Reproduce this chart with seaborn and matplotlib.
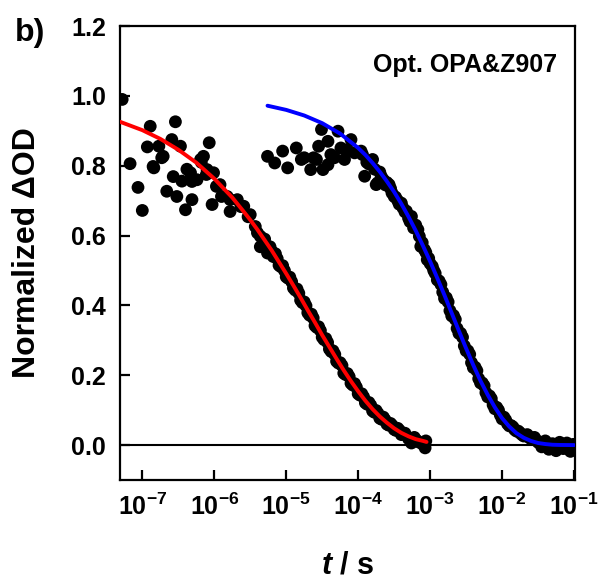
import numpy as np
import pandas as pd
import matplotlib
matplotlib.use("Agg")
import matplotlib.pyplot as plt
import seaborn as sns

# values: log10(t / s) and normalized dOD

# measured points, fast decay (red fit)
red_logt = [-7.28, -7.17, -7.06, -7.00, -6.93, -6.89, -6.85, -6.84, -6.77, -6.73,
            -6.71, -6.66, -6.59, -6.57, -6.54, -6.52, -6.47, -6.45, -6.40, -6.38,
            -6.33, -6.31, -6.31, -6.24, -6.19, -6.18, -6.15, -6.11, -6.10, -6.07,
            -6.03, -6.01, -5.97, -5.92, -5.90, -5.82, -5.78, -5.78, -5.68, -5.63,
            -5.59, -5.53, -5.50, -5.43, -5.40, -5.36, -5.36, -5.30, -5.27, -5.26,
            -5.20, -5.18, -5.15, -5.10, -5.05, -5.00, -4.95, -4.90, -4.85, -4.80,
            -4.75, -4.70, -4.65, -4.60, -4.55, -4.50, -4.45, -4.40, -4.35, -4.30,
            -4.25, -4.20, -4.15, -4.10, -4.05, -4.00, -3.95, -3.90, -3.85, -3.80,
            -3.75, -3.70, -3.65, -3.60, -3.55, -3.50, -3.45, -3.40, -3.35, -3.30,
            -3.26, -3.22, -3.19, -3.15, -3.10, -3.07, -3.06,
            -5.225, -5.175, -5.125, -5.075, -5.025, -4.975, -4.925, -4.875, -4.825, -4.775,
            -4.725, -4.675, -4.625, -4.575, -4.525, -4.475, -4.425, -4.375, -4.325, -4.275,
            -4.225, -4.175, -4.125, -4.075, -4.025, -3.975, -3.925, -3.875, -3.825, -3.775,
            -3.725, -3.675, -3.625, -3.575, -3.525, -3.475, -3.425]
red_od = [0.990, 0.806, 0.738, 0.672, 0.854, 0.913, 0.798, 0.794, 0.856, 0.823,
          0.827, 0.727, 0.875, 0.769, 0.926, 0.712, 0.856, 0.756, 0.674, 0.790,
          0.780, 0.703, 0.755, 0.760, 0.818, 0.810, 0.827, 0.775, 0.789, 0.866,
          0.689, 0.780, 0.741, 0.746, 0.712, 0.712, 0.669, 0.703, 0.703, 0.683,
          0.684, 0.654, 0.660, 0.626, 0.608, 0.598, 0.568, 0.590, 0.564, 0.550,
          0.555, 0.540, 0.548, 0.515, 0.514, 0.482, 0.481, 0.450, 0.447, 0.415,
          0.410, 0.379, 0.375, 0.342, 0.339, 0.309, 0.305, 0.275, 0.270, 0.240,
          0.236, 0.206, 0.205, 0.177, 0.176, 0.147, 0.147, 0.121, 0.122, 0.098,
          0.099, 0.077, 0.080, 0.060, 0.062, 0.045, 0.048, 0.030, 0.034, 0.018,
          0.006, 0.022, 0.014, 0.008, 0.002, -0.008, 0.012,
          0.568, 0.545, 0.534, 0.511, 0.500, 0.478, 0.468, 0.444, 0.435, 0.408,
          0.399, 0.372, 0.364, 0.337, 0.328, 0.302, 0.294, 0.268, 0.260, 0.235,
          0.228, 0.202, 0.196, 0.172, 0.166, 0.143, 0.138, 0.117, 0.114, 0.094,
          0.091, 0.074, 0.072, 0.057, 0.056, 0.042, 0.042]

# measured points, slow decay (blue fit)
blue_logt = [-5.26, -5.16, -5.05, -4.98, -4.86, -4.79, -4.75, -4.66, -4.62, -4.58,
             -4.55, -4.51, -4.49, -4.42, -4.42, -4.38, -4.33, -4.28, -4.24, -4.19,
             -4.15, -4.10, -4.05, -3.96, -3.94, -3.91, -3.88, -3.80, -3.75, -3.73,
             -3.68, -3.62, -3.57, -3.50, -3.45, -3.40, -3.33, -3.26, -3.20, -3.17,
             -3.13, -3.08, -3.04, -3.00, -2.95, -2.90, -2.85, -2.80, -2.75, -2.70,
             -2.65, -2.60, -2.55, -2.50, -2.45, -2.40, -2.35, -2.30, -2.25, -2.20,
             -2.15, -2.10, -2.05, -2.00, -1.95, -1.90, -1.85, -1.80, -1.75, -1.70,
             -1.65, -1.60, -1.55, -1.50, -1.45, -1.40, -1.35, -1.30, -1.25, -1.20,
             -1.15, -1.10, -1.05, -1.01,
             -3.85, -3.77, -3.70, -3.65, -3.60, -3.55, -3.53, -3.48, -3.43, -3.38,
             -3.35, -3.30, -3.28, -3.23, -3.15, -3.11, -3.06, -3.02, -2.97, -2.93,
             -2.875, -2.825, -2.775, -2.725, -2.675, -2.625, -2.575, -2.525, -2.475, -2.425,
             -2.375, -2.325, -2.275, -2.225, -2.175, -2.125, -2.075, -2.025, -1.975, -1.925,
             -1.875, -1.825, -1.775, -1.725, -1.675, -1.625, -1.575, -1.525]
blue_od = [0.827, 0.808, 0.842, 0.794, 0.851, 0.818, 0.823, 0.789, 0.823, 0.818,
           0.856, 0.904, 0.789, 0.870, 0.803, 0.832, 0.823, 0.899, 0.851, 0.818,
           0.846, 0.875, 0.837, 0.842, 0.832, 0.770, 0.810, 0.818, 0.746, 0.751,
           0.770, 0.745, 0.746, 0.712, 0.700, 0.693, 0.670, 0.655, 0.630, 0.617,
           0.569, 0.560, 0.531, 0.520, 0.500, 0.473, 0.460, 0.420, 0.410, 0.370,
           0.360, 0.320, 0.309, 0.270, 0.260, 0.222, 0.213, 0.178, 0.170, 0.138,
           0.133, 0.104, 0.100, 0.075, 0.072, 0.055, 0.052, 0.040, 0.035, 0.026,
           0.030, 0.018, 0.022, 0.008, -0.005, 0.012, -0.012, 0.004, -0.016, 0.008,
           -0.010, 0.006, -0.018, 0.002,
           0.805, 0.790, 0.782, 0.760, 0.752, 0.735, 0.722, 0.710, 0.690, 0.680,
           0.668, 0.650, 0.640, 0.622, 0.598, 0.580, 0.552, 0.535, 0.512, 0.492,
           0.470, 0.438, 0.422, 0.385, 0.371, 0.334, 0.320, 0.284, 0.270, 0.236,
           0.223, 0.190, 0.178, 0.150, 0.141, 0.115, 0.108, 0.086, 0.080, 0.061,
           0.056, 0.044, 0.040, 0.030, 0.028, 0.022, 0.020, 0.014]

# fitted curves
red_fit_logt = [-7.31, -7.0, -6.75, -6.5, -6.25, -6.0, -5.75, -5.6, -5.5, -5.4,
                -5.3, -5.2, -5.1, -5.0, -4.9, -4.8, -4.7, -4.6, -4.5, -4.4,
                -4.3, -4.2, -4.1, -4.0, -3.9, -3.8, -3.7, -3.6, -3.5, -3.4,
                -3.3, -3.2, -3.1, -3.05]
red_fit_od = [0.926, 0.902, 0.877, 0.846, 0.809, 0.763, 0.709, 0.671, 0.645, 0.617,
              0.587, 0.557, 0.524, 0.491, 0.457, 0.422, 0.386, 0.351, 0.315, 0.281,
              0.247, 0.214, 0.183, 0.154, 0.127, 0.103, 0.082, 0.064, 0.048, 0.035,
              0.025, 0.017, 0.012, 0.009]

blue_fit_logt = [-5.26, -5.0, -4.75, -4.5, -4.25, -4.0, -3.9, -3.8, -3.7, -3.6,
                 -3.5, -3.4, -3.3, -3.2, -3.1, -3.0, -2.9, -2.8, -2.7, -2.6,
                 -2.5, -2.4, -2.3, -2.2, -2.1, -2.0, -1.9, -1.8, -1.7, -1.6,
                 -1.5, -1.4, -1.3, -1.2, -1.0]
blue_fit_od = [0.972, 0.960, 0.944, 0.922, 0.892, 0.851, 0.831, 0.808, 0.783, 0.755,
               0.725, 0.691, 0.654, 0.614, 0.571, 0.526, 0.478, 0.429, 0.378, 0.327,
               0.277, 0.229, 0.184, 0.144, 0.108, 0.077, 0.053, 0.034, 0.021, 0.012,
               0.006, 0.003, 0.001, 0.0004, 0.0]

x_ticks = [1e-7, 1e-6, 1e-5, 1e-4, 1e-3, 1e-2, 1e-1]
x_tick_labels = [r"$\mathbf{10^{-7}}$", r"$\mathbf{10^{-6}}$", r"$\mathbf{10^{-5}}$",
                 r"$\mathbf{10^{-4}}$", r"$\mathbf{10^{-3}}$", r"$\mathbf{10^{-2}}$",
                 r"$\mathbf{10^{-1}}$"]
y_ticks = [0.0, 0.2, 0.4, 0.6, 0.8, 1.0, 1.2]
y_tick_labels = ["0.0", "0.2", "0.4", "0.6", "0.8", "1.0", "1.2"]

red_pts = pd.DataFrame({"t": np.power(10.0, red_logt), "od": red_od})
blue_pts = pd.DataFrame({"t": np.power(10.0, blue_logt), "od": blue_od})
red_fit = pd.DataFrame({"t": np.power(10.0, red_fit_logt), "od": red_fit_od})
blue_fit = pd.DataFrame({"t": np.power(10.0, blue_fit_logt), "od": blue_fit_od})

sns.set_style("ticks")
plt.rcParams["font.family"] = ["Liberation Sans", "DejaVu Sans"]
plt.rcParams["font.weight"] = "bold"
plt.rcParams["text.color"] = "black"
plt.rcParams["axes.labelcolor"] = "black"
plt.rcParams["xtick.color"] = "black"
plt.rcParams["ytick.color"] = "black"
plt.rcParams["mathtext.fontset"] = "custom"
plt.rcParams["mathtext.rm"] = "Liberation Sans:bold"
plt.rcParams["mathtext.bf"] = "Liberation Sans:bold"
plt.rcParams["mathtext.it"] = "Liberation Sans:italic:bold"

fig, ax = plt.subplots(figsize=(5.98, 5.8), dpi=100)
fig.subplots_adjust(left=0.2007, right=0.9615, bottom=0.1724, top=0.955)
ax.set_xscale("log")

ax.axhline(0, color="black", lw=1.5, zorder=1)
sns.scatterplot(data=red_pts, x="t", y="od", color="black", s=85,
                edgecolor="none", ax=ax, zorder=2)
sns.scatterplot(data=blue_pts, x="t", y="od", color="black", s=85,
                edgecolor="none", ax=ax, zorder=2)
sns.lineplot(data=red_fit, x="t", y="od", color="red", lw=2.8, sort=False,
             estimator=None, ax=ax, zorder=3)
sns.lineplot(data=blue_fit, x="t", y="od", color="blue", lw=2.8, sort=False,
             estimator=None, ax=ax, zorder=3)

ax.set_xlim(4.9e-8, 1.03e-1)
ax.set_ylim(-0.1, 1.2)
ax.set_xticks(x_ticks)
ax.set_xticklabels(x_tick_labels)
ax.minorticks_off()
ax.set_yticks(y_ticks)
ax.set_yticklabels(y_tick_labels)
ax.tick_params(axis="both", direction="in", length=7.5, width=1.6,
               labelsize=18, pad=10, top=False, right=False)
for side in ["left", "right", "top", "bottom"]:
    ax.spines[side].set_linewidth(1.6)
    ax.spines[side].set_color("black")

ax.set_xlabel(r"$\mathit{t}$ / s", fontsize=22, fontweight="bold", va="top")
ax.xaxis.set_label_coords(0.5, -0.155)
ax.set_ylabel("Normalized \u0394OD", fontsize=23, fontweight="bold")
ax.yaxis.set_label_coords(-0.171, 0.5)

ax.text(0.96, 0.914, "Opt. OPA&Z907", transform=ax.transAxes, ha="right",
        va="center", fontsize=18, fontweight="bold")
fig.text(0.025, 0.943, "b)", fontsize=23, fontweight="bold", va="center")

fig.savefig("out.png", dpi=100)
